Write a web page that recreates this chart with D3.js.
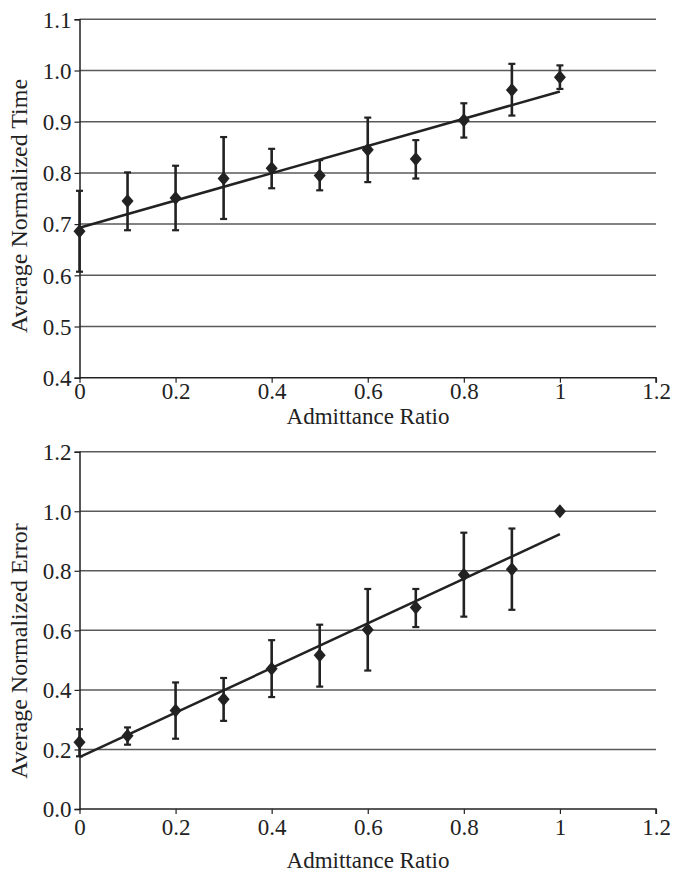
<!DOCTYPE html>
<html><head><meta charset="utf-8">
<script src="https://cdn.jsdelivr.net/npm/d3@7"></script>
<style>
html,body{margin:0;padding:0;background:#fff;}
text{font-family:"Liberation Serif","Times New Roman",serif;fill:#222;}
</style></head>
<body><svg id="c" width="677" height="877"></svg>
<script>
const ratio = [0,0.1,0.2,0.3,0.4,0.5,0.6,0.7,0.8,0.9,1.0];
const xTickVals = [0,0.2,0.4,0.6,0.8,1.0,1.2];
const xTickLabels = ["0","0.2","0.4","0.6","0.8","1","1.2"];

const timeMean = [0.686,0.745,0.751,0.789,0.809,0.795,0.845,0.827,0.903,0.962,0.987];
const timeHi   = [0.765,0.801,0.814,0.870,0.847,0.825,0.908,0.864,0.936,1.013,1.010];
const timeLo   = [0.607,0.688,0.688,0.710,0.770,0.766,0.782,0.789,0.869,0.912,0.964];
const timeTrendX = [0,1];
const timeTrendY = [0.693,0.959];
const timeYTicks = [0.4,0.5,0.6,0.7,0.8,0.9,1.0,1.1];

const errMean = [0.224,0.246,0.331,0.369,0.471,0.516,0.602,0.677,0.787,0.805,1.0];
const errHi   = [0.268,0.274,0.425,0.440,0.567,0.619,0.739,0.739,0.928,0.942,null];
const errLo   = [0.177,0.216,0.236,0.296,0.376,0.411,0.465,0.611,0.646,0.669,null];
const errTrendX = [0,1];
const errTrendY = [0.174,0.923];
const errYTicks = [0.0,0.2,0.4,0.6,0.8,1.0,1.2];

const svg = d3.select("#c");
const ink = "#222";

const diamond = {draw(ctx,size){const w=6,h=7;ctx.moveTo(0,-h);ctx.lineTo(w,0);ctx.lineTo(0,h);ctx.lineTo(-w,0);ctx.closePath();}};

function panel(o){
  const g = svg.append("g");
  const x = d3.scaleLinear().domain([0,1.2]).range([79.5,656]);
  const y = d3.scaleLinear().domain(o.yDomain).range([o.bottom,o.top]);
  // gridlines
  g.selectAll("line.grid").data(o.yTicks.slice(1)).enter().append("line")
    .attr("x1",x(0)).attr("x2",x(1.2)).attr("y1",d=>y(d)).attr("y2",d=>y(d))
    .attr("stroke","#5a5a5a").attr("stroke-width",1.5);
  // y axis
  const ya = d3.axisLeft(y).tickValues(o.yTicks).tickSize(5).tickPadding(3).tickFormat(d3.format(".1f"));
  const yg = g.append("g").attr("transform",`translate(${x(0)},0)`).call(ya);
  yg.select(".domain").attr("stroke",ink).attr("stroke-width",1.5);
  yg.selectAll(".tick line").attr("stroke",ink).attr("stroke-width",1.2);
  yg.selectAll("text").style("font-size","23px").style("fill",ink).attr("dy","0.34em");
  // x axis
  const xa = d3.axisBottom(x).tickValues(xTickVals).tickSize(5).tickPadding(o.xPad)
    .tickFormat((d,i)=>xTickLabels[i]);
  const xg = g.append("g").attr("transform",`translate(0,${o.bottom})`).call(xa);
  xg.select(".domain").attr("stroke",ink).attr("stroke-width",1.5).attr("d",`M${x(0)},0H${x(1.2)}V5`);
  xg.selectAll(".tick line").attr("stroke",ink).attr("stroke-width",1.2);
  xg.selectAll("text").style("font-size","23px").style("fill",ink).attr("dy","0.71em");
  // trend line
  g.append("line").attr("x1",x(o.trendX[0])).attr("y1",y(o.trendY[0]))
    .attr("x2",x(o.trendX[1])).attr("y2",y(o.trendY[1]))
    .attr("stroke",ink).attr("stroke-width",2.5);
  // error bars
  const eb = ratio.map((r,i)=>({r,lo:o.lo[i],hi:o.hi[i]})).filter(d=>d.lo!=null);
  const ebg = g.selectAll("g.eb").data(eb).enter().append("g");
  ebg.append("line").attr("x1",d=>x(d.r)).attr("x2",d=>x(d.r))
    .attr("y1",d=>y(d.lo)).attr("y2",d=>y(d.hi)).attr("stroke",ink).attr("stroke-width",2.6);
  ["lo","hi"].forEach(k=>{
    ebg.append("line").attr("x1",d=>x(d.r)-3.5).attr("x2",d=>x(d.r)+3.5)
      .attr("y1",d=>y(d[k])).attr("y2",d=>y(d[k])).attr("stroke",ink).attr("stroke-width",2.2);
  });
  // markers
  const sym = d3.symbol().type(diamond);
  g.selectAll("path.m").data(ratio.map((r,i)=>({r,v:o.mean[i]}))).enter().append("path")
    .attr("d",sym).attr("transform",d=>`translate(${x(d.r)},${y(d.v)})`).attr("fill",ink);
  // titles
  g.append("text").attr("x",368).attr("y",o.xTitleY).attr("text-anchor","middle")
    .style("font-size","23px").text("Admittance Ratio");
  g.append("text").attr("transform",`translate(27,${o.yTitleC}) rotate(-90)`).attr("text-anchor","middle")
    .style("font-size","24px").text(o.yTitle);
}

panel({yDomain:[0.4,1.1],top:19.3,bottom:377.7,yTicks:timeYTicks,mean:timeMean,hi:timeHi,lo:timeLo,
  trendX:timeTrendX,trendY:timeTrendY,xTitleY:424,yTitleC:206,xPad:0,yTitle:"Average Normalized Time"});
panel({yDomain:[0,1.2],top:451.7,bottom:809,yTicks:errYTicks,mean:errMean,hi:errHi,lo:errLo,
  trendX:errTrendX,trendY:errTrendY,xTitleY:868,yTitleC:651,xPad:5,yTitle:"Average Normalized Error"});
</script></body></html>
